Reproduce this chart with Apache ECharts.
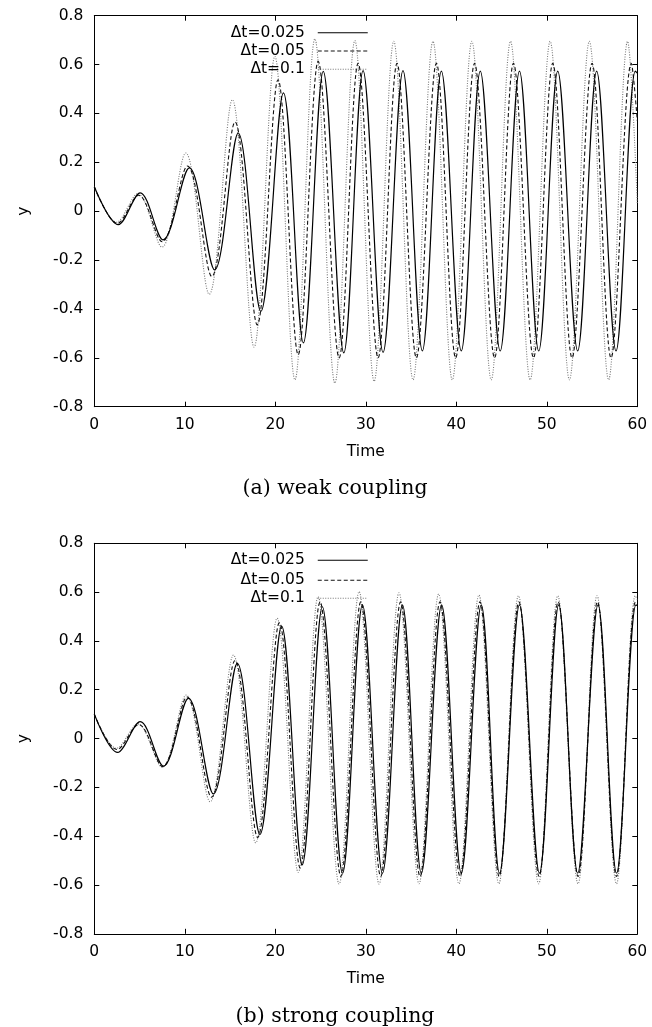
<!DOCTYPE html>
<html><head><meta charset="utf-8">
<script src="https://cdn.jsdelivr.net/npm/echarts@6/dist/echarts.min.js"></script>
<style>html,body{margin:0;padding:0;background:#fff}#c{width:652px;height:1027px}</style>
</head><body><div id="c"></div>
<script>
// ---- data ----
const seriesNames = ['Δt=0.025', 'Δt=0.05', 'Δt=0.1'];
const xTicks = [0, 10, 20, 30, 40, 50, 60];
const yTicks = [-0.8, -0.6, -0.4, -0.2, 0, 0.2, 0.4, 0.6, 0.8];
const captions = ['(a) weak coupling', '(b) strong coupling'];
const xTitle = 'Time';
const yTitle = 'y';

// (a) weak coupling: [time, y] at start, extrema and end
const weak025 = [[0,0.1],[2.65,-0.055],[5.07,0.075],[7.6,-0.117],[10.5,0.177],[13.3,-0.24],[15.9,0.32],[18.4,-0.41],[20.9,0.484],[23.1,-0.539],[25.3,0.572],[27.57,-0.58],[29.7,0.575],[31.91,-0.578],[34.11,0.575],[36.25,-0.572],[38.35,0.573],[40.55,-0.572],[42.65,0.573],[44.85,-0.572],[46.98,0.573],[49.11,-0.572],[51.21,0.573],[53.41,-0.572],[55.51,0.573],[57.65,-0.572],[59.78,0.573],[60,0.565]];
const weak05 = [[0,0.1],[2.55,-0.05],[4.9,0.065],[7.5,-0.125],[10.3,0.185],[12.98,-0.267],[15.55,0.365],[18.0,-0.465],[20.3,0.538],[22.53,-0.587],[24.74,0.613],[27.05,-0.6],[29.15,0.605],[31.36,-0.6],[33.45,0.605],[35.59,-0.6],[37.8,0.605],[39.93,-0.6],[42.02,0.605],[44.23,-0.6],[46.32,0.605],[48.53,-0.6],[50.66,0.605],[52.79,-0.6],[55.0,0.605],[57.1,-0.6],[59.34,0.605],[60,0.37]];
const weak1 = [[0,0.1],[2.45,-0.045],[4.8,0.072],[7.47,-0.147],[10.1,0.238],[12.7,-0.34],[15.25,0.456],[17.65,-0.556],[19.95,0.633],[22.17,-0.69],[24.37,0.705],[26.58,-0.703],[28.79,0.698],[30.92,-0.696],[33.09,0.695],[35.22,-0.69],[37.42,0.695],[39.56,-0.69],[41.72,0.695],[43.86,-0.69],[45.99,0.695],[48.16,-0.69],[50.37,0.695],[52.5,-0.69],[54.7,0.695],[56.83,-0.69],[58.93,0.695],[60,0.03]];

// (b) strong coupling
const strong025 = [[0,0.1],[2.57,-0.057],[5.07,0.069],[7.64,-0.113],[10.4,0.165],[13.16,-0.227],[15.8,0.308],[18.3,-0.393],[20.7,0.461],[22.97,-0.518],[25.2,0.54],[27.43,-0.552],[29.63,0.548],[31.84,-0.552],[34.05,0.548],[36.14,-0.552],[38.38,0.548],[40.55,-0.552],[42.76,0.548],[44.78,-0.552],[46.98,0.548],[49.19,-0.552],[51.32,0.548],[53.41,-0.552],[55.66,0.548],[57.71,-0.552],[59.85,0.548],[60,0.545]];
const strong05 = [[0,0.1],[2.5,-0.045],[4.9,0.057],[7.55,-0.115],[10.25,0.17],[12.95,-0.24],[15.55,0.32],[18.05,-0.405],[20.45,0.475],[22.75,-0.53],[24.95,0.56],[27.25,-0.565],[29.45,0.56],[31.65,-0.565],[33.85,0.56],[36.0,-0.565],[38.2,0.56],[40.42,-0.565],[42.62,0.56],[44.74,-0.565],[46.92,0.56],[49.15,-0.565],[51.26,0.56],[53.46,-0.565],[55.6,0.56],[57.7,-0.565],[59.8,0.56],[60,0.555]];
const strong1 = [[0,0.1],[2.45,-0.04],[4.8,0.06],[7.5,-0.117],[10.15,0.178],[12.8,-0.259],[15.37,0.342],[17.83,-0.427],[20.2,0.493],[22.53,-0.548],[24.73,0.581],[27.05,-0.596],[29.26,0.602],[31.47,-0.596],[33.67,0.597],[35.88,-0.595],[38.05,0.592],[40.29,-0.595],[42.5,0.588],[44.7,-0.595],[46.87,0.585],[49.1,-0.595],[51.21,0.585],[53.45,-0.595],[55.55,0.585],[57.7,-0.595],[59.78,0.585],[60,0.57]];

// ---- styling / layout ----
const FONT = 'DejaVu Sans';
const FS = 15.5;
const panels = [
  {top: 15.7, height: 391, data: [weak025, weak05, weak1], legendTops: [24.7, 43, 61.3], caption: 489},
  {top: 543.3, height: 390.5, data: [strong025, strong05, strong1], legendTops: [552.3, 572.3, 590.3], caption: 1017}
];
const lineStyles = [
  {color: '#000', width: 1.2, type: 'solid'},
  {color: '#111', width: 1.1, type: [4, 2.5]},
  {color: '#777', width: 1.1, type: [1, 1.5]}
];

const grid = [], xAxis = [], yAxis = [], series = [], legend = [], graphic = [];
panels.forEach((p, i) => {
  grid.push({left: 94.3, width: 543, top: p.top, height: p.height, containLabel: false});
  const axLine = {show: true, onZero: false, lineStyle: {color: '#000', width: 1}};
  const tick = {show: true, inside: true, length: 5, lineStyle: {color: '#000', width: 1}};
  xAxis.push({
    type: 'value', gridIndex: i, min: xTicks[0], max: xTicks[xTicks.length - 1], interval: 10,
    axisLine: axLine, axisTick: tick, splitLine: {show: false},
    axisLabel: {color: '#000', fontFamily: FONT, fontSize: FS, margin: 10},
    name: xTitle, nameLocation: 'middle', nameGap: 37,
    nameTextStyle: {color: '#000', fontFamily: FONT, fontSize: FS}
  });
  xAxis.push({
    type: 'value', gridIndex: i, position: 'top', min: 0, max: 60, interval: 10,
    axisLine: axLine, axisTick: tick, splitLine: {show: false}, axisLabel: {show: false}
  });
  yAxis.push({
    type: 'value', gridIndex: i, min: yTicks[0], max: yTicks[yTicks.length - 1], interval: 0.2,
    axisLine: axLine, axisTick: tick, splitLine: {show: false},
    axisLabel: {color: '#000', fontFamily: FONT, fontSize: FS, margin: 11,
      formatter: v => (Math.abs(v) < 1e-9 ? '0' : v.toFixed(1))},
    name: yTitle, nameLocation: 'middle', nameGap: 62,
    nameTextStyle: {color: '#000', fontFamily: FONT, fontSize: FS}
  });
  yAxis.push({
    type: 'value', gridIndex: i, position: 'right', min: -0.8, max: 0.8, interval: 0.2,
    axisLine: axLine, axisTick: tick, splitLine: {show: false}, axisLabel: {show: false}
  });
  p.data.forEach((d, k) => {
    series.push({
      type: 'line', name: seriesNames[k], xAxisIndex: 2 * i, yAxisIndex: 2 * i,
      data: d, smooth: 0.35, symbol: 'none', lineStyle: lineStyles[k], itemStyle: {color: lineStyles[k].color},
      z: 3 - k, animation: false
    });
    legend.push({
      data: [seriesNames[k]], orient: 'vertical', align: 'right', right: 652 - 368.3, top: p.legendTops[k],
      padding: 0, itemWidth: 50, itemHeight: 14, selectedMode: false,
      itemStyle: {opacity: 0, borderWidth: 0},
      lineStyle: {width: 1.1},
      textStyle: {color: '#000', fontFamily: FONT, fontSize: FS, padding: [0, 8, 0, 0]}
    });
  });
  graphic.push({
    type: 'text', x: 335, y: p.caption,
    style: {text: captions[i], font: '20.5px "DejaVu Serif"', fill: '#000', textAlign: 'center', textVerticalAlign: 'middle'}
  });
});

const chart = echarts.init(document.getElementById('c'), null, {renderer: 'canvas'});
chart.setOption({backgroundColor: '#fff', animation: false, grid, xAxis, yAxis, series, legend, graphic});
</script>
</body></html>
